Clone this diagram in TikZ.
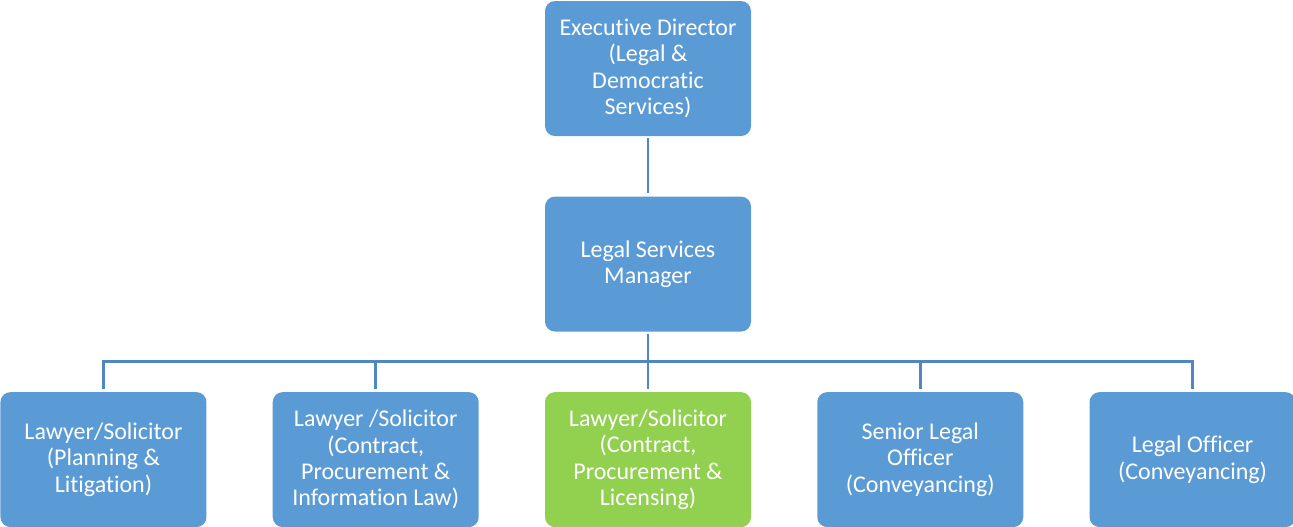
\documentclass[tikz,border=0pt]{standalone}
\usepackage{fontspec}
\setsansfont{Carlito}[Ligatures={NoCommon}]
\usepackage{xcolor}
\usepackage{tikz}
\usetikzlibrary{positioning}
\definecolor{OrgBlue}{HTML}{5B9BD5}
\definecolor{OrgGreen}{HTML}{92D050}
\definecolor{OrgLine}{HTML}{5087C2}

\begin{document}
\begin{tikzpicture}[
  node distance=45pt and 49.3pt,
  post/.style={fill=OrgBlue,rounded corners=7.5pt,minimum width=154.5pt,minimum height=101.25pt,
               align=center,text=white,inner sep=2pt,font=\sffamily\fontsize{18}{19.8}\selectfont},
  focus/.style={post,fill=OrgGreen},
  link/.style={draw=OrgLine,line width=2.2pt,shorten <=1.5pt,shorten >=2.5pt}
]
\useasboundingbox (0,0) rectangle (969.75pt,-394.5pt);
\node[post] (exec) at (486pt,-51.4pt) {Executive Director\\(Legal \&\\Democratic\\Services)};
\node[post,below=of exec] (mgr) {Legal Services\\Manager};
\node[focus,below=of mgr] (licensing) {Lawyer/Solicitor\\(Contract,\\Procurement \&\\Licensing)};
\node[post,left=of licensing] (infolaw) {Lawyer /Solicitor\\(Contract,\\Procurement \&\\Information Law)};
\node[post,left=of infolaw] (planning) {Lawyer/Solicitor\\(Planning \&\\Litigation)};
\node[post,right=of licensing] (senior) {Senior Legal\\Officer\\(Conveyancing)};
\node[post,right=of senior] (officer) {Legal Officer\\(Conveyancing)};
\draw[link] (exec) -- (mgr);
\coordinate (bus) at ([yshift=-22.5pt]mgr.south);
\draw[link,shorten >=0pt] (mgr) -- (bus);
\draw[link,shorten <=0pt] (bus) -| (planning);
\draw[link,shorten <=0pt] (bus) -| (infolaw);
\draw[link,shorten <=0pt] (bus) -- (licensing);
\draw[link,shorten <=0pt] (bus) -| (senior);
\draw[link,shorten <=0pt] (bus) -| (officer);
\end{tikzpicture}
\end{document}
